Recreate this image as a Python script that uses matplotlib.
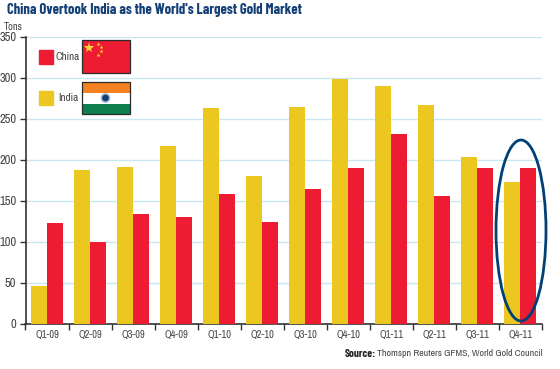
import matplotlib
matplotlib.use('Agg')
import matplotlib.pyplot as plt
from matplotlib.patches import Rectangle, Ellipse, Circle
import numpy as np

plt.rcParams['font.family'] = ['Archivo Narrow', 'Liberation Sans', 'DejaVu Sans']
BOLD_FONT = ['Barlow Condensed', 'Liberation Sans', 'DejaVu Sans']

quarters = ['Q1-09', 'Q2-09', 'Q3-09', 'Q4-09', 'Q1-10', 'Q2-10',
            'Q3-10', 'Q4-10', 'Q1-11', 'Q2-11', 'Q3-11', 'Q4-11']
india = [46, 187, 191, 216, 263, 180, 264, 298, 290, 266, 203, 173]
china = [122, 99, 134, 130, 158, 124, 164, 190, 231, 155, 190, 190]
yticks = [0, 50, 100, 150, 200, 250, 300, 350]

RED = '#EE1C33'
YELLOW = '#EBC71F'
W, H = 560, 369

fig = plt.figure(figsize=(W / 100, H / 100), dpi=100, facecolor='white')
ax = fig.add_axes([25.5 / W, 1 - 323.5 / H, 516.5 / W, 287 / H])

x = np.arange(len(quarters))
ax.bar(x - 0.186, india, width=0.372, color=YELLOW, zorder=3)
ax.bar(x + 0.186, china, width=0.372, color=RED, zorder=3)

ax.set_xlim(-0.5, 11.5)
ax.set_ylim(0, 350)
ax.set_yticks(yticks)
ax.tick_params(axis='y', length=4.5, width=1, color='#333333', labelsize=9,
               labelcolor='#444444', pad=2)
ax.set_xticks(np.arange(-0.5, 12, 1))
ax.set_xticklabels([])
ax.tick_params(axis='x', length=4, width=1, color='#333333')
ax.set_xticks(x, minor=True)
ax.set_xticklabels(quarters, minor=True, fontsize=7.5, color='#444444')
ax.tick_params(axis='x', which='minor', length=0, pad=5)
ax.grid(axis='y', color='#C8E7F0', lw=1, zorder=0)
ax.set_axisbelow(True)
for s in ['top', 'right']:
    ax.spines[s].set_visible(False)
for s in ['left', 'bottom']:
    ax.spines[s].set_color('#333333')
    ax.spines[s].set_linewidth(1.2)

fig.text(7 / W, 1 - 10 / H, "China Overtook India as the World's Largest Gold Market",
         fontsize=10.5, fontweight='bold', family=BOLD_FONT, color='#123F76', va='center')
fig.text(4 / W, 1 - 26.5 / H, 'Tons', fontsize=7.5, color='#444444', va='center')
fig.text(543 / W, 1 - 354 / H, 'Thomspn Reuters GFMS, World Gold Council',
         fontsize=7.1, color='#444444', va='center', ha='right')
fig.text(376 / W, 1 - 354 / H, 'Source:', fontsize=8, fontweight='bold', family=BOLD_FONT,
         color='#222222', va='center', ha='right')

# overlay in pixel coordinates for the legend, flags and ellipse
ov = fig.add_axes([0, 0, 1, 1], facecolor='none', zorder=5)
ov.set_xlim(0, W)
ov.set_ylim(H, 0)
ov.axis('off')

ov.add_patch(Rectangle((38.5, 49.5), 14, 14, color=RED))
ov.add_patch(Rectangle((38.5, 91), 14, 14, color=YELLOW))
ov.text(55, 56.5, 'China', fontsize=8, color='#444444', va='center')
ov.text(58, 98, 'India', fontsize=8, color='#444444', va='center')

# China flag
ov.add_patch(Rectangle((81.5, 40), 48, 32.5, fc=RED, ec='#2A2A2A', lw=0.9))
ov.plot([89], [48], marker='*', ms=8, color='#F7D634', mew=0)
ov.plot([97.5, 100.5, 100.5, 97.5], [43.5, 47, 51, 54.5], ls='none', marker='*', ms=3,
        color='#F7D634', mew=0)

# India flag
ov.add_patch(Rectangle((81.5, 82), 48, 11, fc='#F58220', lw=0))
ov.add_patch(Rectangle((81.5, 93), 48, 11, fc='white', lw=0))
ov.add_patch(Rectangle((81.5, 103.5), 48, 10.5, fc='#0E7F4F', lw=0))
ov.add_patch(Rectangle((81.5, 82), 48, 32, fc='none', ec='#2A2A2A', lw=0.9))
ov.add_patch(Circle((105.5, 98), 5, fc='#AFC3D8', ec='none'))
ov.add_patch(Circle((105.5, 98), 3.4, fc='#123F76', ec='none'))

ov.add_patch(Ellipse((521, 230.5), 50, 181, fc='none', ec='#004077', lw=2))

fig.savefig('out.png', dpi=100)
